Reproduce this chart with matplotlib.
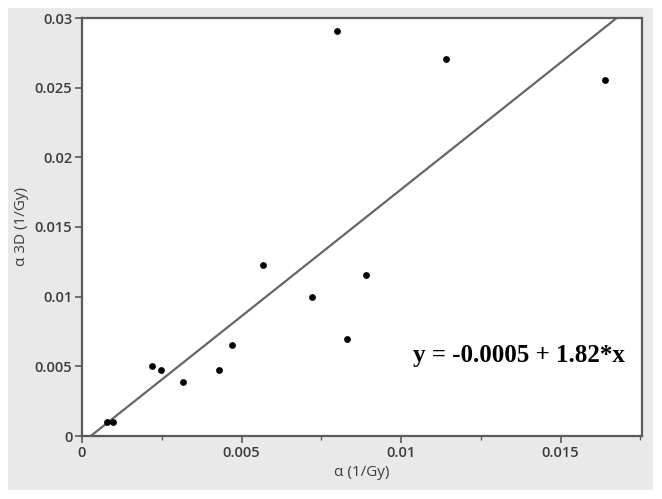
import matplotlib
matplotlib.use("Agg")
import matplotlib.pyplot as plt
from matplotlib.patches import Rectangle
import numpy as np

alpha = [0.00077, 0.00098, 0.00218, 0.00249, 0.00318, 0.00428, 0.00469,
         0.00568, 0.0072, 0.00798, 0.0083, 0.0089, 0.0114, 0.0164]
alpha3d = [0.00103, 0.00103, 0.00502, 0.00473, 0.00385, 0.00473, 0.00653,
           0.01227, 0.00995, 0.02905, 0.00694, 0.01155, 0.02704, 0.02554]
fit_intercept = -0.0005
fit_slope = 1.82
x_ticks = [0, 0.005, 0.01, 0.015]
x_tick_labels = ["0", "0.005", "0.01", "0.015"]
y_ticks = [0, 0.005, 0.01, 0.015, 0.02, 0.025, 0.03]
y_tick_labels = ["0", "0.005", "0.01", "0.015", "0.02", "0.025", "0.03"]

plt.rcParams['font.family'] = ['Open Sans', 'DejaVu Sans']
plt.rcParams['font.weight'] = 'semibold'

W, H = 662, 499
fig = plt.figure(figsize=(W / 100, H / 100), dpi=100)
fig.patch.set_facecolor("white")
# gray panel
panel = Rectangle((8 / W, 1 - 490 / H), (653 - 8) / W, (490 - 8) / H,
                  transform=fig.transFigure, facecolor="#e9e9e9",
                  edgecolor="none", zorder=-10)
fig.add_artist(panel)

left, right, top, bottom = 82, 642, 18, 436
ax = fig.add_axes([left / W, 1 - bottom / H, (right - left) / W, (bottom - top) / H])
ax.set_zorder(1)
ax.set_facecolor("white")

ax.set_xlim(0, 0.01755)
ax.set_ylim(0, 0.03)

xs = np.array([-0.001, 0.02])
ax.plot(xs, fit_intercept + fit_slope * xs, color="#666666", lw=1.6, zorder=2)
ax.scatter(alpha, alpha3d, s=24, color="black", zorder=3, linewidths=0)

ax.set_xticks(x_ticks)
ax.set_xticklabels(x_tick_labels)
ax.set_yticks(y_ticks)
ax.set_yticklabels(y_tick_labels)
ax.set_xticks([0.0025, 0.0075, 0.0125, 0.0175], minor=True)

for s in ax.spines.values():
    s.set_color("#5a5a5a")
    s.set_linewidth(1.6)

ax.tick_params(axis="both", which="major", direction="out", length=5, width=1.2,
               color="#5a5a5a", labelsize=10.5, labelcolor="#3c3c3c", pad=2)
ax.tick_params(axis="x", which="minor", direction="out", length=3, width=1.0,
               color="#5a5a5a")

ax.set_xlabel("α (1/Gy)", fontsize=11, color="#3c3c3c", labelpad=4)
ax.set_ylabel("α 3D (1/Gy)", fontsize=11, color="#3c3c3c", labelpad=4)

ax.text(0.0137, 0.0058, "y = -0.0005 + 1.82*x", fontsize=18, fontweight="bold",
        family="Liberation Serif", ha="center", va="center", color="black")

fig.savefig("out.png", dpi=100)
